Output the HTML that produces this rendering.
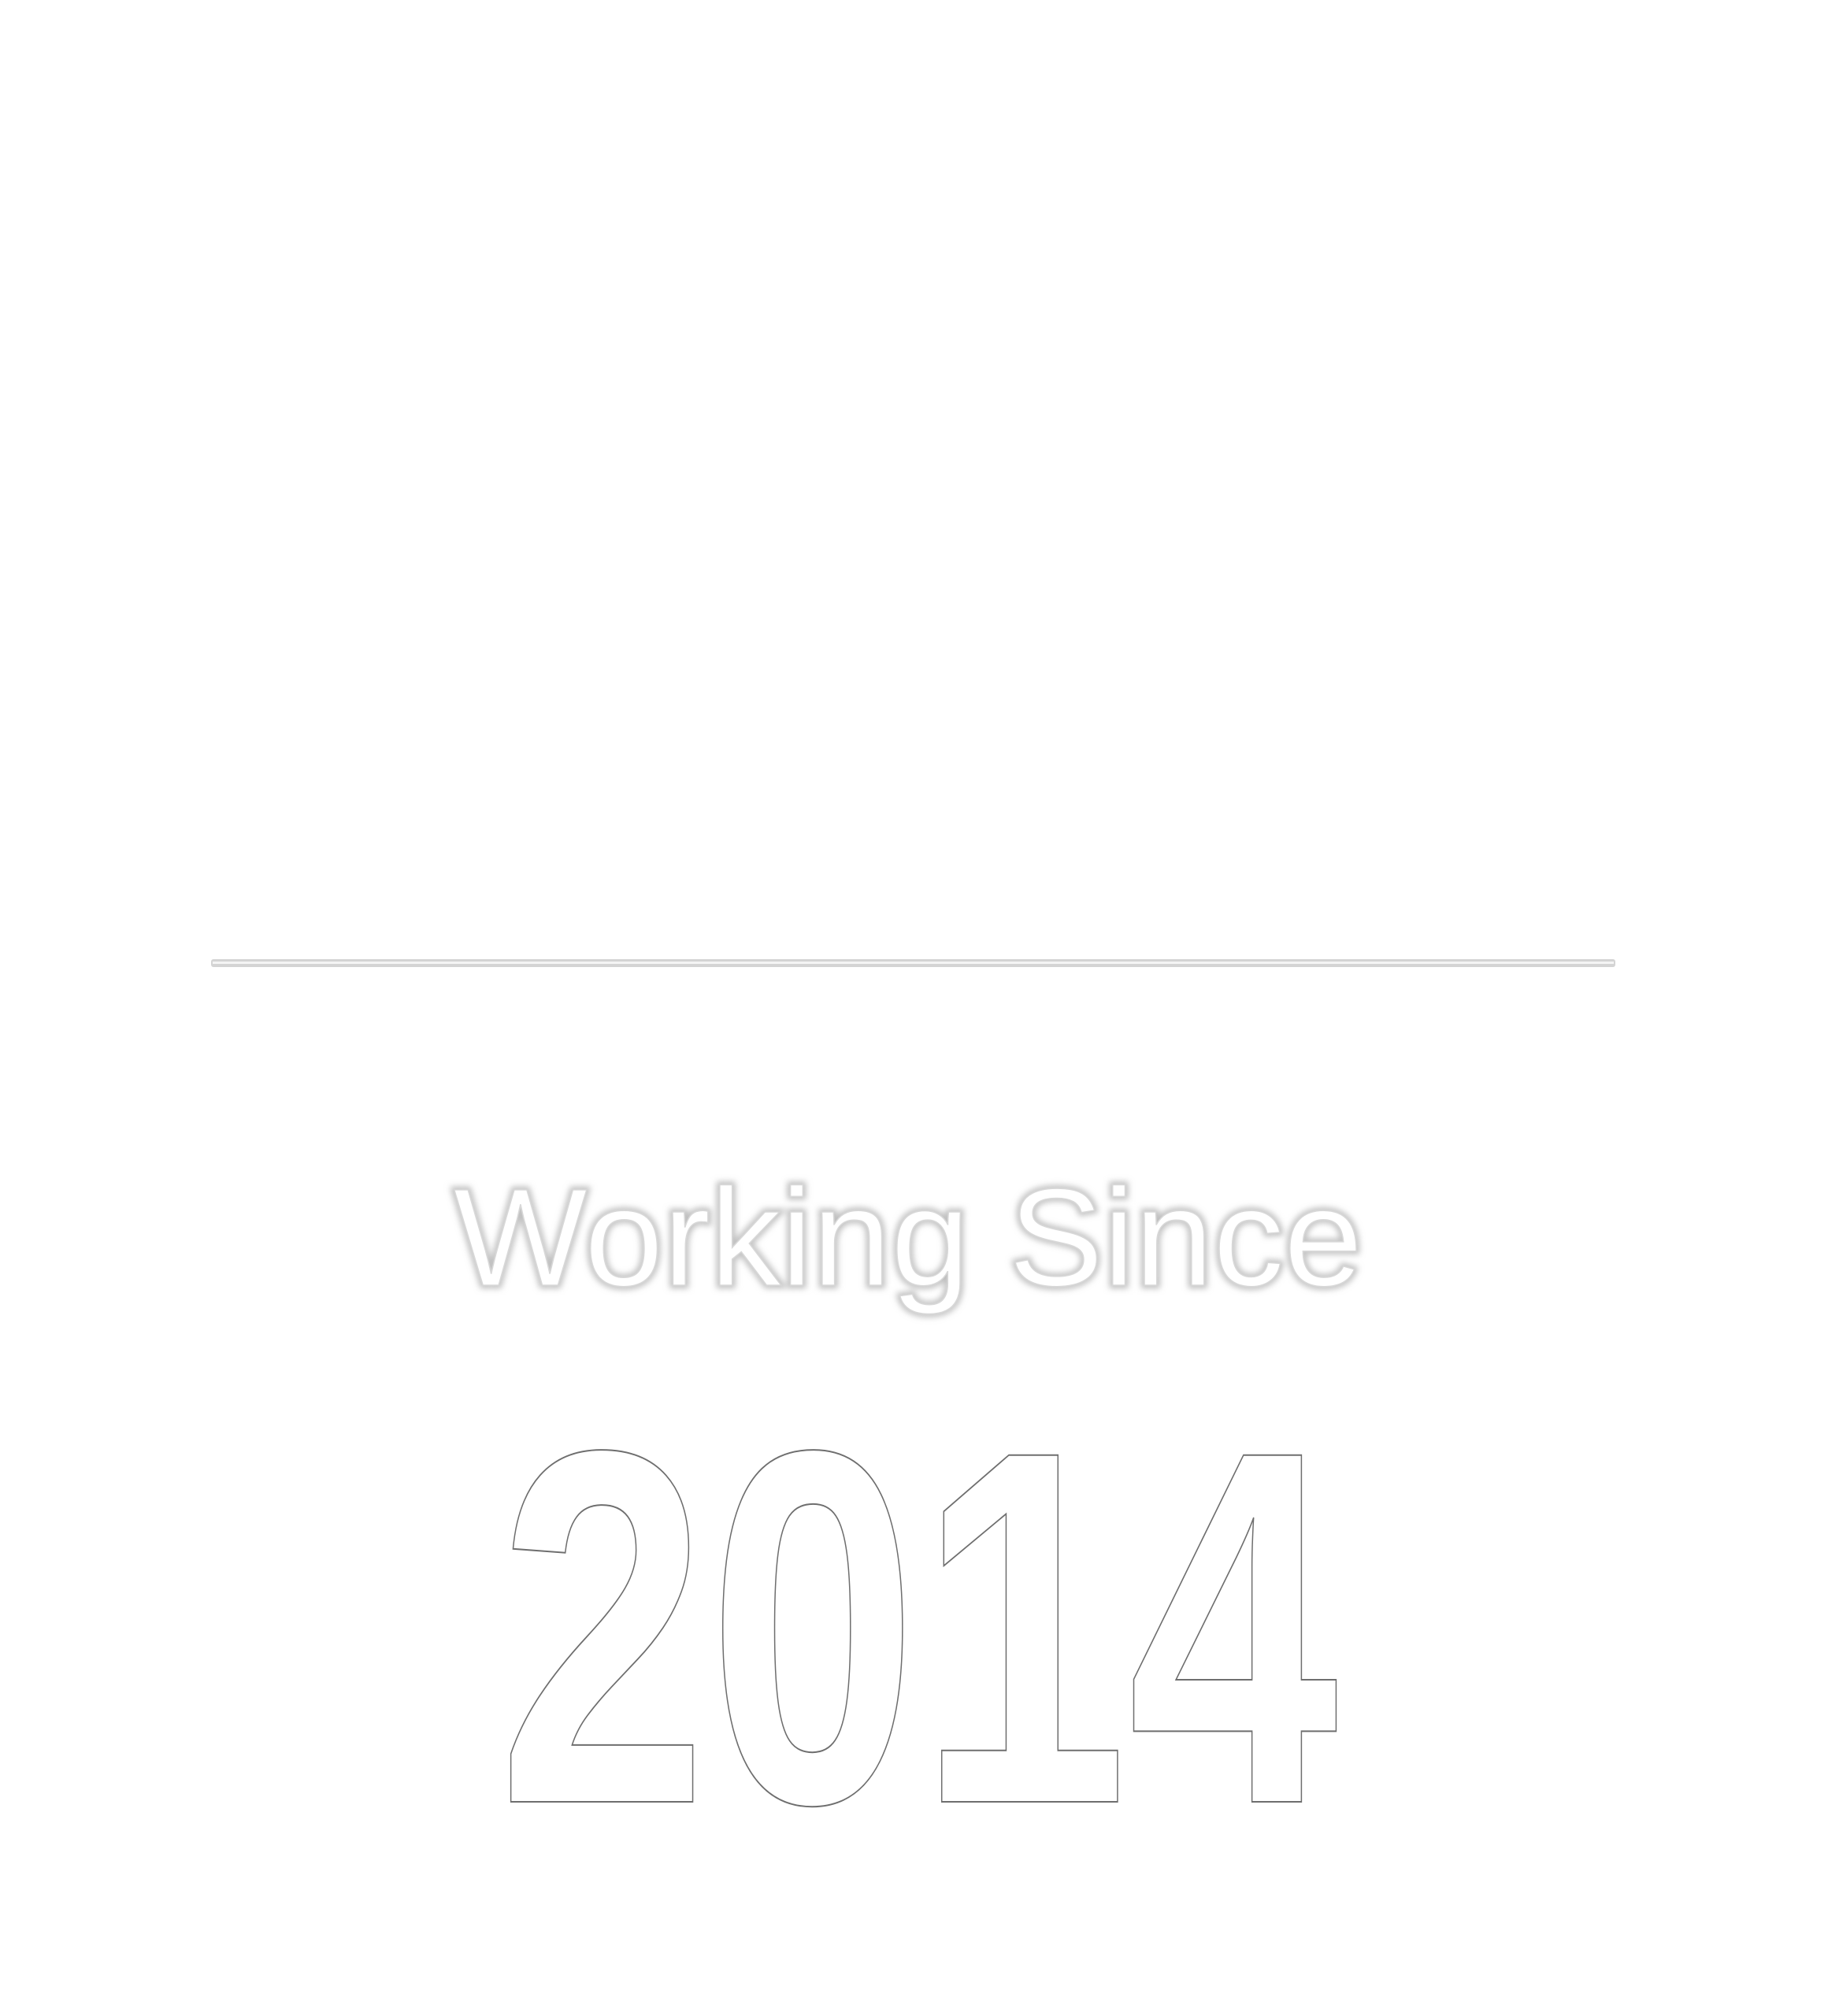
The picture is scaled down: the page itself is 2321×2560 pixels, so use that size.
<!DOCTYPE html>
<html>
<head>
<meta charset="utf-8">
<style>
  html,body{margin:0;padding:0;background:#ffffff;}
  body{width:2321px;height:2560px;overflow:hidden;}
  svg{display:block;}
</style>
</head>
<body>
<svg width="2321" height="2560" viewBox="0 0 2321 2560" xmlns="http://www.w3.org/2000/svg">
  <defs>
    <filter id="glow" x="-10%" y="-30%" width="120%" height="160%">
      <feGaussianBlur stdDeviation="4"/>
    </filter>
  </defs>
  <rect x="0" y="0" width="2321" height="2560" fill="#ffffff"/>

  <g>
    <rect x="268" y="1218" width="1783" height="10" rx="3" fill="#d4d4d4"/>
    <rect x="270" y="1221" width="1779" height="3" fill="#f4f4f4"/>
  </g>

  <g>
    <text x="576" y="1632" textLength="1154" lengthAdjust="spacingAndGlyphs"
      font-family="Liberation Sans, DejaVu Sans, sans-serif" font-size="176"
      fill="none" stroke="#bdbdbd" stroke-width="8" filter="url(#glow)">Working Since</text>
    <text x="576" y="1632" textLength="1154" lengthAdjust="spacingAndGlyphs"
      font-family="Liberation Sans, DejaVu Sans, sans-serif" font-size="176"
      fill="#ffffff" stroke="#d8d8d8" stroke-width="1.5">Working Since</text>
  </g>

  <text x="632" y="2288" textLength="1067" lengthAdjust="spacingAndGlyphs"
    font-family="Liberation Sans, DejaVu Sans, sans-serif" font-weight="bold" font-size="640"
    fill="#ffffff" stroke="#6e6e6e" stroke-width="2">2014</text>
</svg>
</body>
</html>
